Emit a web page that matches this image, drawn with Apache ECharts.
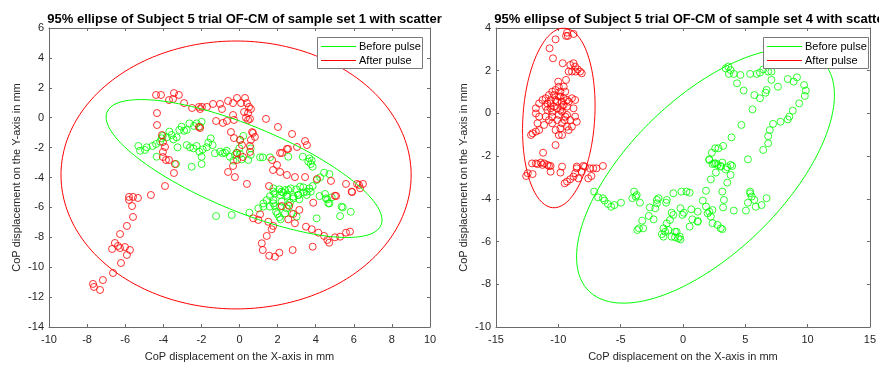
<!DOCTYPE html>
<html><head><meta charset="utf-8">
<script src="https://cdn.jsdelivr.net/npm/echarts@6/dist/echarts.min.js"></script>
<style>html,body{margin:0;padding:0;background:#fff}#c{width:879px;height:367px}</style>
</head><body><div id="c"></div>
<script>
const titles = ['95% ellipse of Subject 5 trial OF-CM of sample set 1 with scatter',
                '95% ellipse of Subject 5 trial OF-CM of sample set 4 with scatter'];
const xName = 'CoP displacement on the X-axis in mm';
const yName = 'CoP displacement on the Y-axis in mm';
const legendNames = ['Before pulse', 'After pulse'];
// axis ranges [min, max, interval]
const xRange1 = [-10, 10, 2], yRange1 = [-14, 6, 2];
const xRange2 = [-15, 15, 5], yRange2 = [-10, 4, 2];

// 95% ellipses: [centerX, centerY, semiAxisA, semiAxisB, angleDeg]
const ell1Before = [0.24, -3.40, 8.14, 2.73, -29];
const ell1After  = [-0.18, -3.83, 9.19, 8.96, 0];
const ell2Before = [1.81, -2.93, 11.15, 4.26, 23.8];
const ell2After  = [-9.96, -0.21, 4.24, 2.86, 80.2];

// Set 1, before pulse (green)
const set1Before = [
[-5.31,-1.89],[-5.22,-2.21],[-4.96,-2.16],[-4.87,-1.98],[-4.56,-1.89],[-4.38,-1.76],[-4.35,-2.61],[-4.17,-1.60],
[-4.09,-1.38],[-4.03,-1.22],[-3.82,-1.31],[-3.68,-0.93],[-3.56,-1.16],[-3.47,-1.45],[-3.30,-1.31],[-3.16,-0.82],
[-3.04,-0.60],[-2.91,-0.87],[-2.77,-0.82],[-2.63,-0.38],[-2.39,-0.55],[-2.25,-0.38],[-1.99,-0.27],[-2.07,-0.60],
[-2.77,-1.83],[-2.60,-1.98],[-2.42,-2.05],[-2.25,-1.89],[-2.11,-2.27],[-1.99,-2.61],[-1.93,-2.12],[-1.72,-1.98],
[-1.64,-1.67],[-1.51,-1.38],[-1.41,-1.83],[-1.29,-2.38],[-1.02,-2.27],[-0.88,-2.38],[-0.76,-2.34],[-0.67,-2.21],
[-0.50,-2.61],[-0.24,-2.49],[-0.15,-2.34],[0.03,-2.43],[-0.01,-2.05],[0.03,-1.49],[0.20,-1.22],[0.59,-2.05],
[0.59,-2.49],[0.46,-2.83],[0.11,-2.79],[-0.32,-2.87],[-1.99,-3.10],[-2.51,-3.28],[-3.25,-1.98],[-3.33,-3.10],
[1.08,-2.65],[1.22,-2.65],[1.60,-2.65],[2.56,-2.61],[3.32,-2.61],[3.67,-2.72],[3.79,-2.87],[3.74,-3.10],
[3.84,-3.28],[3.61,-2.94],[4.44,-3.68],[4.72,-3.77],[4.23,-3.99],[4.05,-4.17],[3.84,-4.57],[3.67,-4.73],
[3.35,-4.66],[3.18,-4.61],[2.97,-4.79],[2.69,-4.73],[2.56,-4.84],[2.39,-4.84],[2.30,-5.01],[2.09,-4.79],
[1.78,-4.73],[1.86,-5.06],[2.13,-5.17],[2.51,-5.28],[2.83,-5.28],[3.09,-5.17],[3.53,-4.95],[3.14,-5.46],
[2.65,-5.68],[2.21,-5.61],[1.78,-5.73],[1.60,-5.95],[1.25,-5.95],[0.99,-6.06],[2.13,-5.95],[2.48,-6.06],
[3.74,-4.95],[4.20,-5.24],[4.49,-5.10],[4.61,-5.46],[4.72,-5.73],[4.84,-5.33],[5.36,-5.95],
[-1.23,-6.58],[-0.41,-6.51],[0.52,-6.35],[1.25,-5.73],[1.43,-5.51],[1.60,-5.24],[1.78,-5.51],[1.86,-5.91],
[1.92,-6.29],[1.99,-6.44],[2.09,-6.66],[2.16,-6.80],[2.39,-6.40],[2.56,-5.84],[2.74,-6.40],[3.00,-6.62],
[2.83,-5.40],[3.09,-5.17],[3.35,-5.01],[3.53,-5.17],[4.05,-6.73],[4.54,-5.40],[4.66,-5.73],[5.28,-6.58],
[5.42,-6.00],[5.84,-6.29],[1.78,-4.95],[2.21,-4.95],[2.48,-5.17]
];
// Set 1, after pulse (red)
const set1After = [
[-4.38,1.52],[-4.12,1.52],[-3.44,1.65],[-3.18,1.52],[-3.70,1.18],[-3.49,1.25],[-2.91,0.98],[-2.49,0.65],
[-2.13,0.72],[-1.97,0.72],[-2.07,0.58],[-1.71,0.72],[-1.39,0.92],[-1.02,0.92],[-0.92,0.58],[-0.60,1.12],
[-0.34,0.98],[-0.13,1.32],[0.08,0.98],[0.29,1.32],[0.39,0.98],[0.50,0.72],[0.60,0.58],[0.24,0.38],
[0.45,0.31],[-0.34,0.18],[-0.29,-0.15],[0.34,0.00],[0.45,-0.15],[0.55,-0.08],[-1.23,-0.22],[-0.87,-0.35],
[-0.66,-0.22],[-4.33,0.31],[-4.33,-0.49],[-2.13,-0.62],[-2.07,-0.69],[1.39,-0.08],[2.02,-0.62],[2.76,-1.09],
[3.44,-1.56],[3.54,-1.83],[3.02,-1.96],[2.49,-2.09],[2.13,-2.36],[0.66,-0.96],[0.71,-1.02],[0.81,-1.29],
[0.60,-1.49],[0.55,-1.89],[0.55,-2.29],[-0.45,-0.96],[-0.29,-1.36],[0.03,-1.49],[0.13,-1.83],[-0.13,-2.36],
[0.18,-2.63],[-0.13,-2.83],[-0.34,-3.23],[-0.60,-3.63],[-0.24,-3.97],[0.39,-4.43],[-4.07,-1.16],[-4.02,-1.63],
[-3.91,-1.96],[-4.02,-2.29],[-4.02,-2.63],[-3.86,-2.83],[-3.70,-2.83],[-3.39,-3.10],[-3.44,-3.70],[-3.91,-4.57],
[1.71,-2.83],[1.97,-3.16],[2.23,-2.36],[2.55,-2.09],[1.76,-3.50],[2.13,-3.63],[2.49,-3.83],[2.91,-3.97],
[3.44,-3.97],[4.07,-4.10],[4.80,-4.23],[5.07,-5.24],[1.55,-4.57],[5.59,-4.43],[5.91,-4.97],[6.17,-4.43],
[6.27,-4.50],[6.48,-4.43],[-4.65,-5.17],[-5.80,-5.30],[-5.59,-5.30],[-5.33,-5.37],[-5.80,-5.50],[-5.64,-5.91],
[-5.59,-6.64],[-5.91,-7.24],[-6.27,-7.78],[-6.54,-8.38],[-6.69,-8.78],[-6.38,-8.58],[-6.27,-8.72],[-6.01,-8.65],
[-5.75,-8.85],[-5.91,-9.18],[-6.22,-9.72],[-6.64,-10.39],[-7.17,-10.86],[-7.69,-11.12],[-7.64,-11.32],[-7.32,-11.52],
[0.72,-6.73],[0.99,-6.84],[1.08,-6.46],[1.51,-6.96],[1.69,-7.46],[1.43,-7.91],[1.17,-8.40],[1.22,-8.85],
[1.56,-9.23],[1.86,-9.30],[2.09,-9.03],[2.79,-8.85],[1.77,-7.24],[2.22,-5.91],[2.56,-6.80],[2.82,-6.44],
[2.91,-7.06],[3.14,-6.17],[3.49,-7.29],[3.79,-7.46],[4.14,-7.69],[4.44,-7.91],[4.61,-8.18],[4.71,-8.36],
[5.01,-8.00],[5.28,-7.96],[5.59,-7.69],[5.80,-7.62],[3.84,-8.63],[3.87,-5.69],[5.01,-5.22],[5.89,-4.95],
[6.33,-4.72],[2.61,-5.90]
];
// Set 4, before pulse (green)
const set4Before = [
[3.43,2.11],[3.64,2.19],[3.82,2.03],[3.69,1.85],[4.08,1.85],[4.61,1.80],[4.34,1.41],[4.87,1.07],
[5.39,1.85],[5.92,1.85],[6.18,1.91],[6.44,2.06],[6.84,1.96],[7.10,1.96],[7.10,1.57],[6.71,1.10],
[6.63,0.97],[6.18,0.71],[5.73,0.86],[5.58,0.19],[4.69,-0.54],[3.90,-1.12],[3.22,-1.52],[2.85,-1.63],
[2.59,-1.63],[2.32,-1.84],[2.11,-2.15],[2.37,-2.37],[2.64,-2.34],[3.03,-2.46],[3.56,-2.52],[3.95,-2.46],
[5.21,-2.15],[6.44,-1.71],[6.84,-1.40],[6.84,-1.06],[6.97,-0.78],[7.23,-0.49],[7.83,-0.39],[8.41,-0.28],
[8.54,-0.15],[8.81,0.13],[9.33,0.47],[9.78,0.82],[9.86,1.07],[9.72,1.33],[9.15,1.69],[8.88,1.49],
[8.41,1.61],[7.62,1.25],
[2.11,-2.18],[2.51,-2.34],[2.77,-2.41],[3.03,-2.49],[3.16,-2.30],[3.43,-2.62],[3.82,-2.41],[3.82,-2.88],
[3.56,-3.24],[2.64,-2.77],[2.24,-3.09],[1.85,-3.62],[1.59,-4.08],[1.85,-4.36],[2.11,-4.60],[1.98,-4.68],
[2.24,-4.83],[2.37,-5.14],[2.77,-5.22],[3.03,-5.38],[3.16,-5.42],[2.37,-4.52],[3.16,-3.66],[3.29,-4.05],
[3.22,-4.40],[4.08,-4.55],[5.05,-4.55],[5.21,-4.18],[5.39,-3.74],[5.52,-3.89],[5.73,-4.05],[6.31,-4.29],
[5.84,-4.37],[6.71,-3.97],[5.39,-3.66],[1.19,-5.04],[0.67,-4.49],[1.19,-4.60],[0.54,-5.30],[0.28,-3.66],
[-0.12,-3.66],[0.54,-3.71],[-0.77,-3.74],[-1.30,-4.05],[-0.20,-4.44],[-0.77,-4.75],[-0.91,-4.65],[-1.04,-4.99],
[-1.30,-5.15],[-1.56,-5.38],[-1.43,-5.54],[-1.69,-5.65],[-1.56,-5.77],[-0.51,-5.54],[-0.25,-5.77],[-0.20,-5.90],
[-0.64,-5.54],[-2.09,-4.21],[-2.22,-4.44],[-2.09,-4.05],[-2.66,-4.40],[-2.74,-4.80],[-2.35,-4.96],[-3.27,-5.02],
[-3.53,-5.38],[-3.66,-5.46],[-3.19,-5.38],[-3.92,-3.66],[-3.79,-3.89],[-3.71,-3.82],[-4.06,-3.97],[-3.45,-4.18],
[-4.97,-4.18],[-5.50,-4.29],[-5.76,-4.37],[-6.02,-4.24],[-6.29,-4.08],[-6.42,-3.97],[-6.81,-3.93],[-7.13,-3.66],
[0.07,-4.65],[0.75,-4.96],[1.19,-5.07],[-0.04,-4.75],[-1.17,-5.46],[-0.91,-5.77],[-0.64,-5.80],[-0.38,-5.85],
[-1.96,-3.97],[-1.35,-4.18]
];
// Set 4, after pulse (red)
const set4After = [
[-9.30,3.78],[-8.78,3.72],[-9.23,3.63],[-9.38,3.63],[-10.22,3.47],[-10.70,3.05],[-10.43,2.58],[-9.65,2.35],
[-9.04,2.27],[-8.78,2.35],[-8.65,2.19],[-8.44,2.06],[-8.25,1.96],[-8.12,1.88],[-8.60,1.96],[-8.91,1.96],
[-9.17,1.96],[-9.38,1.57],[-9.96,1.25],[-10.22,1.10],[-10.49,1.02],[-10.75,0.86],[-11.01,0.71],[-11.27,0.63],
[-11.54,0.47],[-11.80,0.24],[-11.80,0.00],[-11.54,-0.15],[-11.01,-0.15],[-10.49,0.08],[-9.70,0.08],[-9.30,0.32],
[-9.17,0.55],[-8.91,0.71],[-8.65,0.63],[-8.78,0.24],[-8.65,-0.15],[-8.52,-0.39],[-8.91,-0.62],[-9.17,-0.78],
[-9.70,-1.01],[-9.96,-1.01],[-10.22,-0.78],[-10.49,-0.46],[-10.75,-0.31],[-11.14,-0.54],[-11.54,-0.78],[-11.80,-0.85],
[-12.06,-0.93],[-12.19,-1.01],[-11.67,-0.46],[-11.01,0.32],[-10.62,0.47],[-10.09,0.55],[-9.83,0.79],[-10.35,0.86],
[-9.83,1.02],[-9.44,1.02],[-9.57,1.25],[-10.01,1.49],[-9.75,0.55],[-9.49,-0.31],[-9.30,-0.07],[-9.04,-0.31],
[-10.22,-1.48],[-11.22,-1.84],[-12.11,-2.34],[-11.80,-2.34],[-11.40,-2.30],[-11.14,-2.34],[-10.88,-2.41],[-10.62,-2.46],
[-9.70,-2.49],[-8.52,-2.49],[-7.99,-2.46],[-7.47,-2.57],[-6.94,-2.57],[-6.42,-2.46],
[-12.45,-2.80],[-12.06,-2.84],[-11.67,-2.37],[-11.27,-2.41],[-10.75,-2.46],[-10.62,-2.73],[-9.83,-2.77],[-9.49,-3.27],
[-9.30,-3.19],[-9.04,-3.08],[-8.78,-2.96],[-8.65,-2.80],[-8.52,-2.57],[-8.39,-3.04],[-8.12,-2.73],[-7.86,-2.49],
[-7.60,-3.04],[-7.34,-2.93],[-7.20,-2.57],[-12.58,-2.93],
[-10.88,0.16],[-10.62,0.24],[-10.35,0.32],[-10.09,0.24],[-9.83,0.16],[-9.57,0.40],[-9.96,0.79],[-10.22,0.63],
[-10.62,0.63],[-10.88,0.47],[-9.57,0.71],[-9.30,0.63],[-9.70,0.32],[-10.49,-0.15],[-9.96,-0.07],[-9.44,-0.15],
[-10.09,-0.31],[-9.70,-0.46],[-9.30,-0.62],[-9.83,-0.70]
];

const GREEN = '#00ff00', RED = '#ff0000';
const AXC = '#6a6a6a';
const FONT = "'Liberation Sans', Arial, Helvetica, sans-serif";

function ellipse(p) {
  const [cx, cy, a, b, deg] = p;
  const th = deg * Math.PI / 180, pts = [];
  for (let i = 0; i <= 240; i++) {
    const t = 2 * Math.PI * i / 240;
    pts.push([cx + a * Math.cos(t) * Math.cos(th) - b * Math.sin(t) * Math.sin(th),
              cy + a * Math.cos(t) * Math.sin(th) + b * Math.sin(t) * Math.cos(th)]);
  }
  return pts;
}

const grids = [{left: 49, top: 28, width: 381, height: 299}, {left: 496, top: 28, width: 381, height: 299}];
const xr = [xRange1, xRange2], yr = [yRange1, yRange2];

function xAxis(i, mirror) {
  const ax = {type: 'value', gridIndex: i, min: xr[i][0], max: xr[i][1], interval: xr[i][2],
    position: mirror ? 'top' : 'bottom',
    axisLine: {show: true, onZero: false, lineStyle: {color: AXC, width: 1}}, splitLine: {show: false},
    axisTick: {show: true, inside: true, length: 3, lineStyle: {color: AXC}},
    axisLabel: {show: !mirror, fontFamily: FONT, fontSize: 11, color: '#262626', margin: 7, showMaxLabel: true, showMinLabel: true}};
  if (!mirror) Object.assign(ax, {name: xName, nameLocation: 'middle', nameGap: 24,
    nameTextStyle: {fontFamily: FONT, fontSize: 11, color: '#262626'}});
  return ax;
}
function yAxis(i, mirror) {
  const ax = {type: 'value', gridIndex: i, min: yr[i][0], max: yr[i][1], interval: yr[i][2],
    position: mirror ? 'right' : 'left',
    axisLine: {show: true, onZero: false, lineStyle: {color: AXC, width: 1}}, splitLine: {show: false},
    axisTick: {show: true, inside: true, length: 3, lineStyle: {color: AXC}},
    axisLabel: {show: !mirror, fontFamily: FONT, fontSize: 11, color: '#262626', margin: 5, showMaxLabel: true, showMinLabel: true}};
  if (!mirror) Object.assign(ax, {name: yName, nameLocation: 'middle', nameGap: 27,
    nameTextStyle: {fontFamily: FONT, fontSize: 11, color: '#262626'}});
  return ax;
}
function scatter(i, data, color) {
  return {type: 'scatter', xAxisIndex: i, yAxisIndex: i, data: data, symbol: 'circle', symbolSize: 7,
    itemStyle: {color: 'rgba(0,0,0,0)', borderColor: color, borderWidth: 1}, silent: true, z: 2};
}
function ellLine(i, name, p, color) {
  return {type: 'line', name: name, xAxisIndex: i, yAxisIndex: i, data: ellipse(p), showSymbol: false,
    symbol: 'none', color: color, lineStyle: {color: color, width: 1}, silent: true, z: 3, clip: true};
}
// legend box drawn as graphics (box left, top)
function legendBox(x, y) {
  const colors = [GREEN, RED];
  const els = [{type: 'rect', shape: {x: x + 0.5, y: y + 0.5, width: 105, height: 31},
    style: {fill: '#fff', stroke: '#7a7a7a', lineWidth: 1}, z: 10}];
  legendNames.forEach((n, k) => {
    const cy = y + 9.5 + k * 14;
    els.push({type: 'line', shape: {x1: x + 4, y1: cy, x2: x + 39, y2: cy},
      style: {stroke: colors[k], lineWidth: 1}, z: 11});
    els.push({type: 'text', x: x + 42, y: cy, z: 11,
      style: {text: n, fontFamily: FONT, fontSize: 11, fill: '#000', verticalAlign: 'middle', align: 'left'}});
  });
  return els;
}

const chart = echarts.init(document.getElementById('c'), null, {renderer: 'canvas'});
chart.setOption({
  animation: false,
  backgroundColor: '#fff',
  title: [
    {text: titles[0], left: 239.5, top: 8, textAlign: 'center', textStyle: {fontFamily: FONT, fontSize: 13, fontWeight: 'bold', color: '#000'}},
    {text: titles[1], left: 686.5, top: 8, textAlign: 'center', textStyle: {fontFamily: FONT, fontSize: 13, fontWeight: 'bold', color: '#000'}}
  ],
  grid: grids.map(g => Object.assign({show: false}, g)),
  xAxis: [xAxis(0, false), xAxis(1, false), xAxis(0, true), xAxis(1, true)],
  yAxis: [yAxis(0, false), yAxis(1, false), yAxis(0, true), yAxis(1, true)],
  graphic: legendBox(317, 37).concat(legendBox(763, 37)),
  series: [
    scatter(0, set1Before, GREEN), scatter(0, set1After, RED),
    ellLine(0, legendNames[0], ell1Before, GREEN), ellLine(0, legendNames[1], ell1After, RED),
    scatter(1, set4Before, GREEN), scatter(1, set4After, RED),
    ellLine(1, legendNames[0], ell2Before, GREEN), ellLine(1, legendNames[1], ell2After, RED)
  ]
});
</script></body></html>
